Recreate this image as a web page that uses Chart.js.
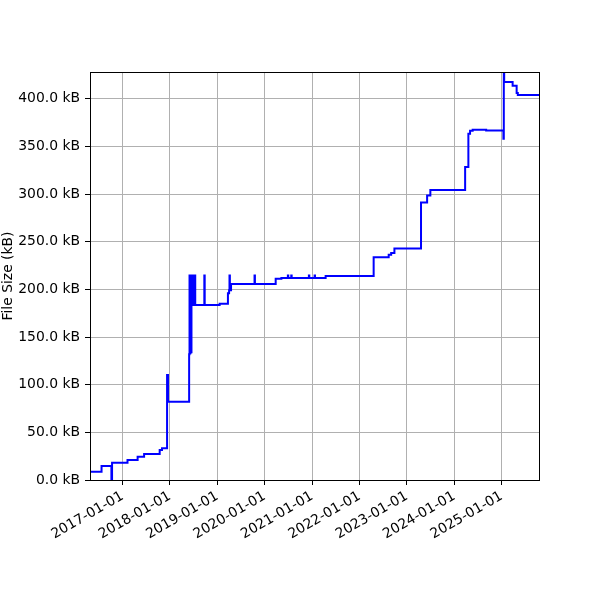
<!DOCTYPE html>
<html>
<head>
    <title>File size over time</title>
    <script src="https://cdn.jsdelivr.net/npm/chart.js@4.4.0/dist/chart.umd.min.js"></script>
    <style>
        html, body { margin: 0; padding: 0; background: white; }
    </style>
</head>
<body>
    <canvas id="sizeChart" width="600" height="600"></canvas>
<script>
    // release dates and file size in kB (steps-post: value holds until the next date)
    const sizeDates = [
        '2016-04-25', '2016-07-23', '2016-10-07', '2016-10-12', '2017-02-08', '2017-04-27',
        '2017-06-16', '2017-10-14', '2017-11-01', '2017-12-10', '2017-12-17', '2018-05-29',
        '2018-06-01', '2018-06-04', '2018-06-08', '2018-06-12', '2018-06-16', '2018-06-20',
        '2018-06-24', '2018-06-28', '2018-07-02', '2018-07-06', '2018-07-10', '2018-07-15',
        '2018-09-23', '2018-09-26', '2019-01-19', '2019-03-24', '2019-04-02', '2019-04-05',
        '2019-04-08', '2019-04-17', '2019-10-15', '2019-10-18', '2020-03-26', '2020-05-09',
        '2020-06-28', '2020-07-01', '2020-07-24', '2020-07-27', '2020-12-07', '2020-12-10',
        '2021-01-20', '2021-01-23', '2021-04-15', '2022-04-20', '2022-08-14', '2022-09-02',
        '2022-09-27', '2023-04-20', '2023-06-06', '2023-07-01', '2024-03-25', '2024-04-19',
        '2024-05-02', '2024-05-22', '2024-09-03', '2025-01-14', '2025-01-17', '2025-01-20',
        '2025-03-26', '2025-04-26', '2025-05-05', '2025-10-23'
    ];
    const sizeValues = [
        8.7, 14.7, 0, 18.2, 21.0, 24.5,
        27.3, 31.5, 33.3, 110.2, 82.2, 132,
        214.5, 133, 214.5, 134, 214.5, 183.5,
        214.5, 183.5, 214.5, 183.5, 214.5, 183.5,
        214.5, 183.5, 184.8, 196, 199, 214.5,
        199, 205.5, 214.5, 205.5, 211, 212,
        214.5, 212, 214.5, 212, 214.5, 212,
        214.5, 212, 214, 233.8, 236.2, 238,
        242.8, 291.1, 298.5, 304.1, 328.3, 363.3,
        366.4, 367.5, 366.7, 358, 440, 417.5,
        413.6, 406, 404, 404
    ];
    const xTickDates = ['2017-01-01', '2018-01-01', '2019-01-01', '2020-01-01', '2021-01-01',
        '2022-01-01', '2023-01-01', '2024-01-01', '2025-01-01'];
    const yTickValues = [0, 50, 100, 150, 200, 250, 300, 350, 400];
    const xMinDate = '2016-04-25';
    const xMaxDate = '2025-10-23';
    const yMax = 428;

    const fontFamily = "'DejaVu Sans', sans-serif";
    Chart.defaults.font.family = fontFamily;
    Chart.defaults.font.size = 13.9;
    Chart.defaults.color = '#000';

    var points = [];
    for (var i = 0; i < sizeDates.length; i++) {
        points.push({x: Date.parse(sizeDates[i]), y: sizeValues[i]});
    }

    // black frame around the plot area, like matplotlib spines
    const framePlugin = {
        id: 'frame',
        afterDatasetsDraw(chart) {
            const a = chart.chartArea;
            const ctx = chart.ctx;
            ctx.save();
            ctx.strokeStyle = '#000';
            ctx.lineWidth = 1;
            ctx.strokeRect(Math.round(a.left) + 0.5, Math.round(a.top) + 0.5,
                Math.round(a.right - a.left) - 1, Math.round(a.bottom - a.top));
            ctx.restore();
        }
    };

    const ctx = document.getElementById('sizeChart');
    const chart = new Chart(ctx, {
        type: 'line',
        data: {
            datasets: [{
                data: points,
                borderColor: '#0000ff',
                borderWidth: 2,
                pointRadius: 0,
                stepped: 'before',
                fill: false,
                tension: 0
            }]
        },
        options: {
            responsive: false,
            animation: false,
            layout: { padding: { top: 72, right: 60, left: 0, bottom: 0 } },
            plugins: {
                legend: { display: false },
                tooltip: { enabled: false }
            },
            scales: {
                x: {
                    type: 'linear',
                    min: Date.parse(xMinDate),
                    max: Date.parse(xMaxDate),
                    afterBuildTicks: (scale) => {
                        scale.ticks = xTickDates.map(d => ({value: Date.parse(d)}));
                    },
                    afterFit: (scale) => { scale.height = 120; },
                    border: { display: false },
                    grid: {
                        color: '#b0b0b0',
                        lineWidth: 1,
                        drawTicks: true,
                        tickLength: 5,
                        tickColor: '#000',
                        tickWidth: 1
                    },
                    ticks: {
                        minRotation: 30,
                        maxRotation: 30,
                        padding: 3,
                        autoSkip: false,
                        callback: (v) => new Date(v).toISOString().slice(0, 10)
                    }
                },
                y: {
                    type: 'linear',
                    min: 0,
                    max: yMax,
                    afterBuildTicks: (scale) => {
                        scale.ticks = yTickValues.map(v => ({value: v}));
                    },
                    afterFit: (scale) => { scale.width = 90; },
                    border: { display: false },
                    grid: {
                        color: '#b0b0b0',
                        lineWidth: 1,
                        drawTicks: true,
                        tickLength: 5,
                        tickColor: '#000',
                        tickWidth: 1
                    },
                    ticks: {
                        padding: 5,
                        callback: (v) => v.toFixed(1) + ' kB'
                    },
                    title: {
                        display: true,
                        text: 'File Size (kB)',
                        padding: { top: 0, bottom: 0 }
                    }
                }
            }
        },
        plugins: [framePlugin]
    });
</script>
</body>
</html>
